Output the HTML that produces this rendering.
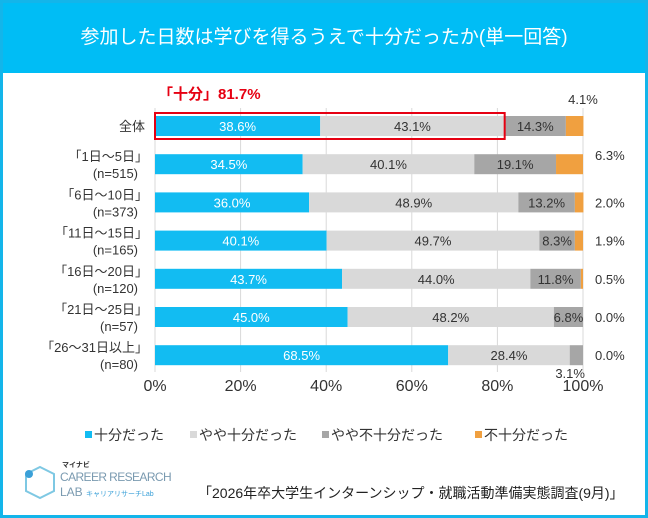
<!DOCTYPE html>
<html><head><meta charset="utf-8"><style>
body{margin:0;width:648px;height:518px;overflow:hidden;background:#fff;font-family:"Liberation Sans","Noto Sans CJK JP",sans-serif}
#frame{position:absolute;left:0;top:0;width:642px;height:512px;border:3px solid #13b5ea;background:#fff}
#hdr{position:absolute;left:0;top:0;width:642px;height:70px;background:#00bdf5;color:#fff;font-size:19px;text-align:center;line-height:70px}
</style></head><body>
<div id="frame">
<div id="hdr">参加した日数は学びを得るうえで十分だったか(単一回答)</div>
</div>
<svg id="c" width="648" height="518" style="position:absolute;left:0;top:0"></svg>
<script>
const categories=[["全体",""],["「1日～5日」","(n=515)"],["「6日～10日」","(n=373)"],["「11日～15日」","(n=165)"],["「16日～20日」","(n=120)"],["「21日～25日」","(n=57)"],["「26～31日以上」","(n=80)"]];
const sufficient=[38.6,34.5,36.0,40.1,43.7,45.0,68.5];
const somewhatSufficient=[43.1,40.1,48.9,49.7,44.0,48.2,28.4];
const somewhatInsufficient=[14.3,19.1,13.2,8.3,11.8,6.8,3.1];
const insufficient=[4.1,6.3,2.0,1.9,0.5,0.0,0.0];
const ticks=[0,20,40,60,80,100];
const seriesNames=["十分だった","やや十分だった","やや不十分だった","不十分だった"];
const colors=["#12bcf2","#d9d9d9","#a6a6a6","#f0a040"];
const textColors=["#fff","#333","#333","#333"];
const NS="http://www.w3.org/2000/svg";
const svg=document.getElementById('c');
const x=v=>155+v*4.28;
const y=i=>126+i*38.2;
function el(t,a,txt){const e=document.createElementNS(NS,t);for(const k in a)e.setAttribute(k,a[k]);if(txt!=null)e.textContent=txt;svg.appendChild(e);return e;}
ticks.forEach(t=>{
 const g=el('line',{x1:x(t),x2:x(t),y1:108,y2:372,stroke:'#d9d9d9','stroke-width':1});
 
 
 const l=el('text',{x:x(t),y:391,'text-anchor':'middle','font-size':16,fill:'#333'},t+'%');
 
 
});
const series=[sufficient,somewhatSufficient,somewhatInsufficient,insufficient];
categories.forEach((c,i)=>{
 const cy=y(i);
 if(c[1]){
  const a=el('text',{x:148,y:cy-3,'text-anchor':'end','font-size':13,fill:'#333'},c[0]);
  
  
  const b=el('text',{x:138,y:cy+14,'text-anchor':'end','font-size':13,fill:'#333'},c[1]);
  
  
 } else {
  const a=el('text',{x:145,y:cy+5,'text-anchor':'end','font-size':13,fill:'#333'},c[0]);
  
  
 }
 let acc=0;
 series.forEach((s,k)=>{
  const v=s[i];
  const r=el('rect',{x:x(acc),y:cy-10,width:v*4.28,height:20,fill:colors[k]});
  
  
  if(k<3 && v>=5){
   const t=el('text',{x:x(acc+v/2),y:cy+5,'text-anchor':'middle','font-size':13,fill:textColors[k]},v.toFixed(1)+'%');
   
   
  }
  acc+=v;
 });
 let lx=x(100)+12, ly=cy+5;
 if(i===0){lx=x(100); ly=cy-22;}
 if(i===1){ly=cy-4;}
 const t=el('text',{x:lx,y:ly,'text-anchor':i===0?'middle':'start','font-size':13,fill:'#333'},insufficient[i].toFixed(1)+'%');
 
 
 if(i===6){
  const u=el('text',{x:x(97),y:cy+23,'text-anchor':'middle','font-size':13,fill:'#333'},somewhatInsufficient[i].toFixed(1)+'%');
  
  
 }
});
const box=el('rect',{x:x(0),y:y(0)-13,width:(sufficient[0]+somewhatSufficient[0])*4.28,height:26,fill:'none',stroke:'#e60012','stroke-width':2});


const bt=el('text',{x:158,y:99,'font-size':15,'font-weight':'bold',fill:'#e60012'},'「十分」'+(sufficient[0]+somewhatSufficient[0]).toFixed(1)+'%');


const lxs=[85,190,322,475];
seriesNames.forEach((n,k)=>{
 const r=el('rect',{x:lxs[k],y:431,width:7,height:7,fill:colors[k]});
 
 
 const t=el('text',{x:lxs[k]+9,y:440,'font-size':14,fill:'#333'},n);
 
 
});
</script>
<div style="position:absolute;left:22px;top:462px;width:170px;height:40px;white-space:nowrap">
 <svg width="36" height="36" style="position:absolute;left:0;top:2px"><polygon points="18,3 32,10 32,27 18,34 4,27 4,10" fill="none" stroke="#7ec8e3" stroke-width="2"/><circle cx="7" cy="10" r="4" fill="#3aa0d8"/></svg>
 <div style="position:absolute;left:40px;top:-2px;font-size:7px;color:#333;font-weight:bold">マイナビ</div>
 <div style="position:absolute;left:38px;top:8px;font-size:12px;color:#7a9ab0;letter-spacing:-0.6px">CAREER RESEARCH</div>
 <div style="position:absolute;left:38px;top:23px;font-size:12px;color:#7a9ab0">LAB <span style="font-size:7px;color:#3aa0d8">キャリアリサーチLab</span></div>
</div>
<div style="position:absolute;left:198px;top:483px;font-size:14px;color:#222;white-space:nowrap">「2026年卒大学生インターンシップ・就職活動準備実態調査(9月)」</div>
</body></html>
